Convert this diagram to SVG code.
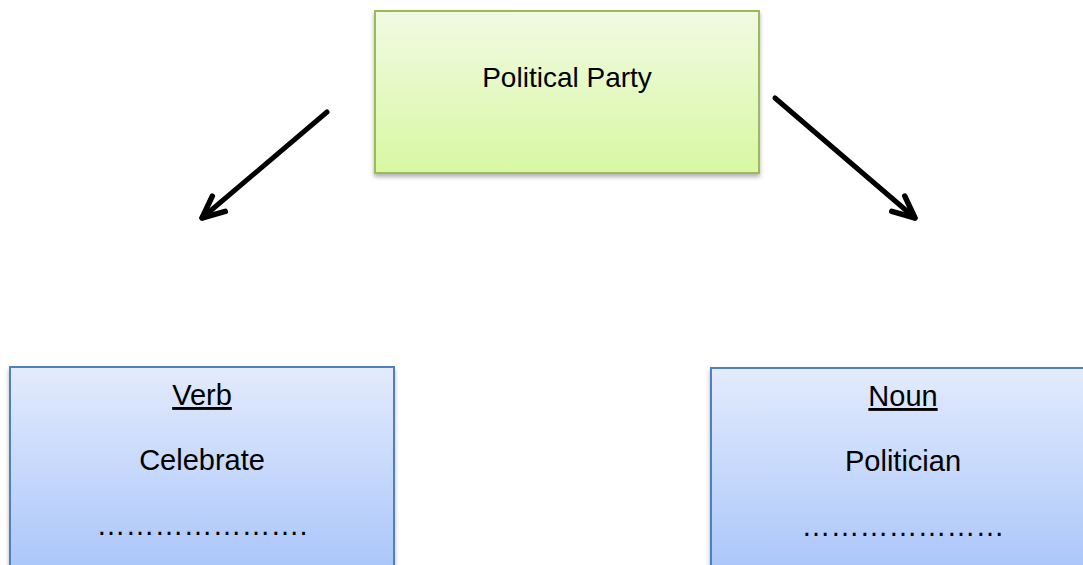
<svg xmlns="http://www.w3.org/2000/svg" width="1083" height="565" viewBox="0 0 1083 565">
  <defs>
    <linearGradient id="gGreen" x1="0" y1="0" x2="0" y2="1">
      <stop offset="0" stop-color="#f1fae3"/>
      <stop offset="1" stop-color="#d8f8a2"/>
    </linearGradient>
    <linearGradient id="gBlue" x1="0" y1="0" x2="0" y2="1">
      <stop offset="0" stop-color="#e3ebfd"/>
      <stop offset="1" stop-color="#a6c3fa"/>
    </linearGradient>
    <filter id="shadow" x="-10%" y="-10%" width="120%" height="130%">
      <feDropShadow dx="0" dy="3" stdDeviation="2" flood-color="#000" flood-opacity="0.3"/>
    </filter>
    <marker id="arrow" markerUnits="userSpaceOnUse" viewBox="-30 -16 36 32" refX="0" refY="0" markerWidth="36" markerHeight="32" orient="auto" overflow="visible">
      <path d="M-22,-10 L0,0 L-22,10" fill="none" stroke="#000" stroke-width="5.5" stroke-linecap="round" stroke-linejoin="round"/>
    </marker>
  </defs>
  <style>
    .t { font-family: "Liberation Sans", Arial, sans-serif; fill: #000; text-anchor: middle; }
    .top { font-size: 28px; }
    .sub { font-size: 29px; }
    .u { text-decoration: underline; }
    .conn { stroke: #000; stroke-width: 5; stroke-linecap: round; fill: none; marker-end: url(#arrow); }
  </style>
  <rect width="1083" height="565" fill="#fff"/>

  <g id="connectors">
    <line class="conn" x1="327" y1="112" x2="202" y2="218"/>
    <line class="conn" x1="775" y1="98" x2="915" y2="218"/>
  </g>

  <g id="node-party">
    <rect x="375" y="11" width="384" height="162" fill="url(#gGreen)" stroke="#9bbb59" stroke-width="2" filter="url(#shadow)"/>
    <text class="t top" x="567" y="87">Political Party</text>
  </g>

  <g id="node-verb">
    <rect x="10" y="367" width="384" height="220" fill="url(#gBlue)" stroke="#4f81bd" stroke-width="2" filter="url(#shadow)"/>
    <text class="t sub u" x="202" y="405">Verb</text>
    <text class="t sub" x="202" y="470">Celebrate</text>
    <text class="t sub" x="202" y="535">&#8230;&#8230;&#8230;&#8230;&#8230;&#8230;&#8230;.</text>
  </g>

  <g id="node-noun">
    <rect x="711" y="368" width="384" height="220" fill="url(#gBlue)" stroke="#4f81bd" stroke-width="2" filter="url(#shadow)"/>
    <text class="t sub u" x="903" y="406">Noun</text>
    <text class="t sub" x="903" y="471">Politician</text>
    <text class="t sub" x="903" y="536">&#8230;&#8230;&#8230;&#8230;&#8230;&#8230;&#8230;</text>
  </g>
</svg>
